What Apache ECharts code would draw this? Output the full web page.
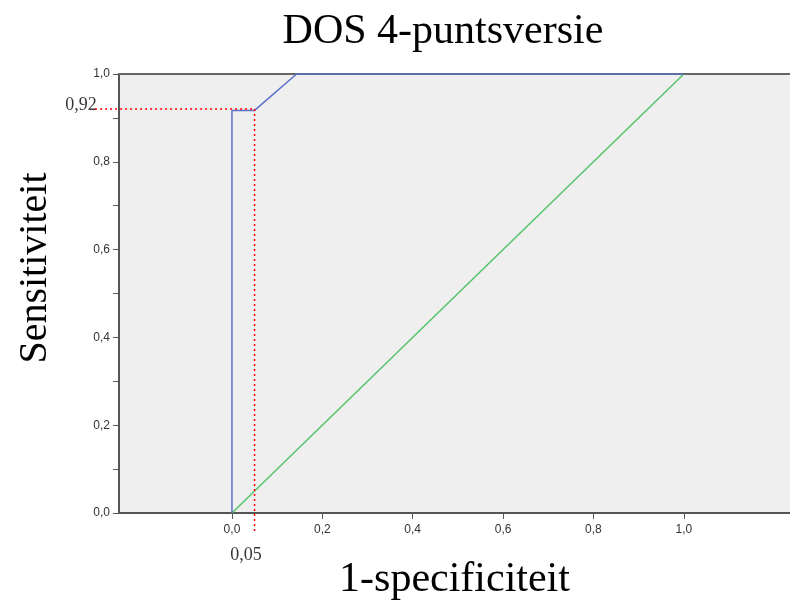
<!DOCTYPE html>
<html>
<head>
<meta charset="utf-8">
<script src="https://cdn.jsdelivr.net/npm/echarts@6/dist/echarts.min.js"></script>
<style>
  html, body { margin: 0; padding: 0; background: #fff; }
  #chart { width: 790px; height: 606px; }
</style>
</head>
<body>
<div id="chart"></div>
<script>
// ROC curve (1-specificiteit, sensitiviteit)
const rocCurve = [[0, 0], [0, 0.917], [0.05, 0.917], [0.143, 1], [1, 1]]
// reference diagonal
const diagonal = [[0, 0], [1, 1]]
// red dotted guide lines at the chosen cut-off: [x1, y1, x2, y2]
const guides = [
  [-0.303, 0.92, 0.05, 0.92],
  [0.05, 0.92, 0.05, -0.041]
]
// annotation texts and where they sit
const cutoffLabels = [
  { value: [-0.334, 0.929], text: '0,92' },
  { value: [0.031, -0.096], text: '0,05' }
]
const xTicks = [0, 0.2, 0.4, 0.6, 0.8, 1.0]

const chart = echarts.init(document.getElementById('chart'))

const fmt = v => v.toFixed(1).replace('.', ',')

const option = {
  animation: false,
  backgroundColor: '#ffffff',
  title: {
    text: 'DOS 4-puntsversie',
    left: 438,
    textAlign: 'center',
    top: 6,
    textStyle: { fontFamily: 'Liberation Serif', fontSize: 42, fontWeight: 'normal', color: '#000' }
  },
  // y-axis name sits a bit above the plot centre, so it is placed by hand
  graphic: [{
    type: 'text',
    x: 35, y: 268,
    rotation: Math.PI / 2,
    style: {
      text: 'Sensitiviteit',
      font: '40px "Liberation Serif"',
      fill: '#000',
      align: 'center',
      verticalAlign: 'middle'
    }
  }],
  grid: {
    left: 119, right: 0, top: 74, bottom: 91,
    show: true, backgroundColor: '#efefef', borderWidth: 0
  },
  xAxis: [{
    type: 'value',
    min: -0.25, max: 1.235,
    name: '1-specificiteit',
    nameLocation: 'middle',
    nameGap: 46,
    nameTextStyle: { fontFamily: 'Liberation Serif', fontSize: 42, color: '#000' },
    axisLine: { show: true, onZero: false, lineStyle: { color: '#555', width: 2 } },
    axisTick: { show: true, length: 6, customValues: xTicks, lineStyle: { color: '#555' } },
    axisLabel: { customValues: xTicks, formatter: fmt, fontFamily: 'Liberation Sans', fontSize: 12, color: '#333', margin: 11 },
    splitLine: { show: false }
  }, {
    type: 'value',
    position: 'top',
    min: -0.25, max: 1.235,
    axisLine: { show: true, onZero: false, lineStyle: { color: '#666', width: 2 } },
    axisTick: { show: false },
    axisLabel: { show: false },
    splitLine: { show: false }
  }],
  yAxis: {
    type: 'value',
    min: 0, max: 1, interval: 0.1,
    axisLine: { show: true, onZero: false, lineStyle: { color: '#555', width: 2 } },
    axisTick: { show: true, length: 6, lineStyle: { color: '#555' } },
    axisLabel: {
      formatter: v => (Math.round(v * 10) % 2 === 0 ? fmt(v) : ''),
      fontFamily: 'Liberation Sans', fontSize: 12, color: '#333', margin: 9
    },
    splitLine: { show: false }
  },
  series: [
    {
      type: 'line', data: diagonal, symbol: 'none',
      lineStyle: { color: '#55c36a', width: 1.5 }
    },
    {
      type: 'line', data: rocCurve, symbol: 'none',
      lineStyle: { color: '#5b72c9', width: 1.5 }
    },
    {
      // guide lines run outside the plot, so draw them as custom segments
      type: 'custom', clip: false, z: 10,
      data: guides,
      encode: { x: [0, 2], y: [1, 3] },
      renderItem: (params, api) => {
        const p1 = api.coord([api.value(0), api.value(1)])
        const p2 = api.coord([api.value(2), api.value(3)])
        return {
          type: 'line',
          shape: { x1: p1[0], y1: p1[1], x2: p2[0], y2: p2[1] },
          style: { stroke: '#ff0000', lineWidth: 1.5, lineDash: [2, 3] }
        }
      }
    },
    {
      type: 'scatter', clip: false, symbolSize: 0, z: 6,
      data: cutoffLabels.map(d => ({ value: d.value, name: d.text })),
      label: {
        show: true, position: 'inside', formatter: p => p.name,
        fontFamily: 'Liberation Serif', fontSize: 18, color: '#000'
      }
    }
  ]
}

chart.setOption(option)
</script>
</body>
</html>
